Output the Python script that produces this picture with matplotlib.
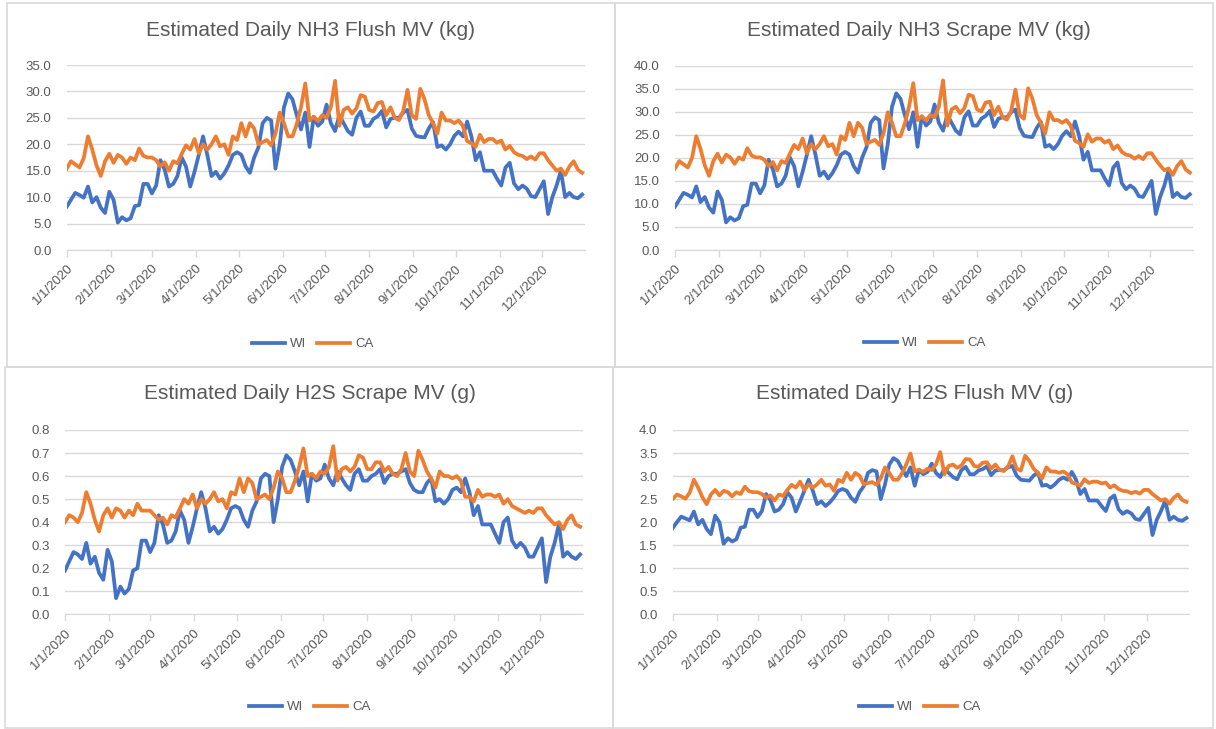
# Estimated daily NH3 / H2S emissions, WI vs CA, 2020 (4 Excel-style panels)
import matplotlib
matplotlib.use("Agg")
import matplotlib.pyplot as plt
from matplotlib.patches import Rectangle
import numpy as np
import pandas as pd

# colours (Excel defaults)
WI_COLOR = "#4472C4"
CA_COLOR = "#ED7D31"
GRID_COLOR = "#D9D9D9"
TEXT_COLOR = "#595959"
LINE_W = 2.7

plt.rcParams["font.family"] = ["Liberation Sans", "DejaVu Sans"]

# sample dates: every 3rd day of 2020
dates = pd.date_range("2020-01-01", periods=122, freq="3D")
month_ticks = pd.date_range("2020-01-01", "2020-12-01", freq="MS")
month_labels = [f"{d.month}/{d.day}/{d.year}" for d in month_ticks]
series_names = ["WI", "CA"]

# NH3 flush (kg)
nh3_flush_wi = [8.2, 9.5, 10.8, 10.4, 9.9, 12.0, 9.0, 10.0, 8.0, 7.0,
                11.0, 9.5, 5.2, 6.2, 5.6, 6.0, 8.3, 8.5, 12.5, 12.5,
                10.7, 12.2, 17.0, 15.2, 12.0, 12.5, 14.0, 17.5, 15.8, 12.0,
                14.8, 18.0, 21.5, 18.0, 14.0, 14.8, 13.5, 14.5, 16.0, 18.0,
                18.5, 18.0, 15.8, 14.6, 17.5, 19.4, 24.0, 25.0, 24.5, 15.4,
                20.0, 27.0, 29.6, 28.5, 25.5, 22.8, 26.0, 19.5, 25.2, 23.5,
                24.3, 27.5, 24.0, 22.5, 25.5, 24.0, 22.5, 21.8, 25.0, 26.2,
                23.5, 23.5, 24.8, 25.3, 26.3, 23.2, 24.8, 25.0, 25.0, 26.0,
                26.5, 23.0, 21.6, 21.4, 21.3, 23.0, 24.2, 19.5, 19.8, 19.0,
                20.0, 21.6, 22.4, 21.5, 24.3, 21.5, 17.0, 18.5, 15.0, 15.0,
                15.0, 13.5, 12.2, 15.6, 16.5, 12.6, 11.5, 12.2, 11.6, 10.2,
                10.0, 11.5, 13.0, 6.8, 10.0, 12.2, 15.0, 10.0, 10.8, 10.0,
                9.8, 10.5]
nh3_flush_ca = [15.4, 16.8, 16.2, 15.6, 17.4, 21.5, 19.0, 16.0, 14.0, 16.8,
                18.2, 16.5, 18.0, 17.5, 16.3, 17.5, 17.0, 19.2, 17.8, 17.5,
                17.5, 17.0, 15.8, 16.6, 15.0, 16.8, 16.4, 18.2, 19.8, 19.0,
                21.0, 18.3, 20.0, 19.0, 20.0, 21.5, 19.6, 20.0, 18.0, 21.5,
                20.8, 24.0, 21.5, 24.0, 23.0, 20.0, 20.4, 20.8, 19.8, 22.0,
                26.0, 24.0, 21.5, 21.5, 23.8, 27.0, 31.5, 24.5, 25.2, 24.4,
                25.5, 25.0, 27.0, 32.0, 23.5, 26.5, 27.0, 25.8, 26.8, 29.3,
                29.0, 26.5, 26.2, 27.8, 28.0, 25.5, 27.0, 25.0, 24.6, 26.3,
                30.3, 25.5, 24.8, 30.5, 28.5, 25.5, 24.0, 22.0, 26.0, 24.5,
                24.5, 24.0, 24.5, 23.5, 20.6, 20.2, 19.5, 21.8, 20.4, 21.0,
                21.0, 20.3, 20.7, 19.0, 19.7, 18.5, 18.0, 17.8, 17.2, 17.7,
                17.1, 18.3, 18.3, 17.0, 16.0, 15.0, 15.4, 14.2, 15.8, 16.8,
                15.2, 14.6]

# NH3 scrape (kg)
nh3_scrape_wi = [9.4, 10.9, 12.4, 12.0, 11.4, 13.8, 10.4, 11.5, 9.2, 8.1,
                 12.7, 10.9, 6.0, 7.1, 6.4, 6.9, 9.5, 9.8, 14.4, 14.4,
                 12.3, 14.0, 19.6, 17.5, 13.8, 14.4, 16.1, 20.1, 18.2, 13.8,
                 17.0, 20.7, 24.7, 20.7, 16.1, 17.0, 15.5, 16.7, 18.4, 20.7,
                 21.3, 20.7, 18.2, 16.8, 20.1, 22.3, 27.6, 28.8, 28.2, 17.7,
                 23.0, 31.1, 34.0, 32.8, 29.3, 26.2, 29.9, 22.4, 29.0, 27.0,
                 27.9, 31.6, 27.6, 25.9, 29.3, 27.6, 25.9, 25.1, 28.8, 30.1,
                 27.0, 27.0, 28.5, 29.1, 30.2, 26.7, 28.5, 28.8, 28.8, 29.9,
                 30.5, 26.5, 24.8, 24.6, 24.5, 26.5, 27.8, 22.4, 22.8, 21.9,
                 23.0, 24.8, 25.8, 24.7, 27.9, 24.7, 19.6, 21.3, 17.3, 17.3,
                 17.3, 15.5, 14.0, 17.9, 19.0, 14.5, 13.2, 14.0, 13.3, 11.7,
                 11.5, 13.2, 15.0, 7.8, 11.5, 14.0, 17.3, 11.5, 12.4, 11.5,
                 11.3, 12.1]
nh3_scrape_ca = [17.7, 19.3, 18.6, 17.9, 20.0, 24.7, 21.9, 18.4, 16.1, 19.3,
                 20.9, 19.0, 20.7, 20.1, 18.7, 20.1, 19.6, 22.1, 20.5, 20.1,
                 20.1, 19.6, 18.2, 19.1, 17.3, 19.3, 18.9, 20.9, 22.8, 21.9,
                 24.2, 21.0, 23.0, 21.9, 23.0, 24.7, 22.5, 23.0, 20.7, 24.7,
                 23.9, 27.6, 24.7, 27.6, 26.5, 23.0, 23.5, 23.9, 22.8, 25.3,
                 29.9, 27.6, 24.7, 24.7, 27.4, 31.1, 36.2, 28.2, 29.0, 28.1,
                 29.3, 28.8, 31.1, 36.8, 27.0, 30.5, 31.1, 29.7, 30.8, 33.7,
                 33.4, 30.5, 30.1, 32.0, 32.2, 29.3, 31.1, 28.8, 28.3, 30.2,
                 34.8, 29.3, 28.5, 35.1, 32.8, 29.3, 27.6, 25.3, 29.9, 28.2,
                 28.2, 27.6, 28.2, 27.0, 23.7, 23.2, 22.4, 25.1, 23.5, 24.2,
                 24.2, 23.3, 23.8, 21.9, 22.7, 21.3, 20.7, 20.5, 19.8, 20.4,
                 19.7, 21.0, 21.0, 19.6, 18.4, 17.3, 17.7, 16.3, 18.2, 19.3,
                 17.5, 16.8]

# H2S scrape (g)
h2s_scrape_wi = [0.19, 0.23, 0.27, 0.26, 0.24, 0.31, 0.22, 0.25, 0.18, 0.15,
                 0.28, 0.23, 0.07, 0.12, 0.09, 0.11, 0.19, 0.20, 0.32, 0.32,
                 0.27, 0.31, 0.43, 0.39, 0.31, 0.32, 0.36, 0.45, 0.41, 0.31,
                 0.38, 0.46, 0.53, 0.46, 0.36, 0.38, 0.35, 0.37, 0.41, 0.46,
                 0.47, 0.46, 0.41, 0.38, 0.45, 0.49, 0.59, 0.61, 0.60, 0.40,
                 0.50, 0.64, 0.69, 0.67, 0.62, 0.56, 0.62, 0.49, 0.61, 0.58,
                 0.59, 0.65, 0.59, 0.56, 0.62, 0.59, 0.56, 0.54, 0.61, 0.63,
                 0.58, 0.58, 0.60, 0.61, 0.63, 0.57, 0.60, 0.61, 0.61, 0.62,
                 0.63, 0.57, 0.54, 0.53, 0.53, 0.57, 0.59, 0.49, 0.50, 0.48,
                 0.50, 0.54, 0.55, 0.53, 0.59, 0.53, 0.43, 0.47, 0.39, 0.39,
                 0.39, 0.35, 0.31, 0.40, 0.42, 0.32, 0.29, 0.31, 0.29, 0.25,
                 0.25, 0.29, 0.33, 0.14, 0.25, 0.31, 0.39, 0.25, 0.27, 0.25,
                 0.24, 0.26]
h2s_scrape_ca = [0.40, 0.43, 0.42, 0.40, 0.44, 0.53, 0.48, 0.41, 0.36, 0.43,
                 0.46, 0.42, 0.46, 0.45, 0.42, 0.45, 0.43, 0.48, 0.45, 0.45,
                 0.45, 0.43, 0.41, 0.42, 0.39, 0.43, 0.42, 0.46, 0.50, 0.48,
                 0.52, 0.46, 0.50, 0.48, 0.50, 0.53, 0.49, 0.50, 0.46, 0.53,
                 0.52, 0.59, 0.53, 0.59, 0.57, 0.50, 0.51, 0.52, 0.50, 0.55,
                 0.62, 0.59, 0.53, 0.53, 0.58, 0.64, 0.72, 0.60, 0.61, 0.59,
                 0.62, 0.61, 0.64, 0.73, 0.58, 0.63, 0.64, 0.62, 0.64, 0.69,
                 0.68, 0.63, 0.63, 0.66, 0.66, 0.62, 0.64, 0.61, 0.60, 0.63,
                 0.70, 0.62, 0.60, 0.71, 0.67, 0.62, 0.59, 0.55, 0.62, 0.60,
                 0.60, 0.59, 0.60, 0.58, 0.51, 0.51, 0.49, 0.54, 0.51, 0.52,
                 0.52, 0.51, 0.52, 0.48, 0.50, 0.47, 0.46, 0.45, 0.44, 0.45,
                 0.44, 0.46, 0.46, 0.43, 0.41, 0.39, 0.40, 0.37, 0.41, 0.43,
                 0.39, 0.38]

# H2S flush (g)
h2s_flush_wi = [1.87, 2.00, 2.12, 2.08, 2.04, 2.23, 1.95, 2.05, 1.85, 1.74,
                2.14, 2.00, 1.53, 1.65, 1.58, 1.63, 1.88, 1.90, 2.27, 2.27,
                2.11, 2.24, 2.61, 2.48, 2.23, 2.27, 2.39, 2.65, 2.53, 2.23,
                2.45, 2.68, 2.92, 2.68, 2.39, 2.45, 2.35, 2.43, 2.54, 2.68,
                2.72, 2.68, 2.53, 2.44, 2.65, 2.78, 3.07, 3.13, 3.10, 2.50,
                2.82, 3.25, 3.39, 3.33, 3.16, 3.00, 3.19, 2.79, 3.14, 3.04,
                3.09, 3.27, 3.07, 2.98, 3.16, 3.07, 2.98, 2.93, 3.13, 3.20,
                3.04, 3.04, 3.12, 3.15, 3.21, 3.02, 3.12, 3.13, 3.13, 3.19,
                3.22, 3.01, 2.92, 2.91, 2.90, 3.01, 3.08, 2.79, 2.81, 2.75,
                2.82, 2.92, 2.97, 2.92, 3.09, 2.92, 2.61, 2.72, 2.47, 2.47,
                2.47, 2.35, 2.24, 2.51, 2.58, 2.28, 2.18, 2.24, 2.19, 2.07,
                2.05, 2.18, 2.31, 1.72, 2.05, 2.24, 2.47, 2.05, 2.12, 2.05,
                2.03, 2.09]
h2s_flush_ca = [2.50, 2.60, 2.56, 2.51, 2.64, 2.92, 2.75, 2.54, 2.39, 2.60,
                2.70, 2.58, 2.68, 2.65, 2.56, 2.65, 2.61, 2.77, 2.67, 2.65,
                2.65, 2.61, 2.53, 2.58, 2.47, 2.60, 2.57, 2.70, 2.81, 2.75,
                2.88, 2.70, 2.82, 2.75, 2.82, 2.92, 2.79, 2.82, 2.68, 2.92,
                2.87, 3.07, 2.92, 3.07, 3.01, 2.82, 2.85, 2.87, 2.81, 2.95,
                3.19, 3.07, 2.92, 2.92, 3.06, 3.25, 3.49, 3.10, 3.14, 3.09,
                3.16, 3.13, 3.25, 3.52, 3.04, 3.22, 3.25, 3.18, 3.23, 3.37,
                3.36, 3.22, 3.20, 3.29, 3.30, 3.16, 3.25, 3.13, 3.11, 3.21,
                3.43, 3.16, 3.12, 3.44, 3.33, 3.16, 3.07, 2.95, 3.19, 3.10,
                3.10, 3.07, 3.10, 3.04, 2.86, 2.83, 2.79, 2.93, 2.85, 2.88,
                2.88, 2.84, 2.86, 2.75, 2.80, 2.72, 2.68, 2.67, 2.63, 2.66,
                2.62, 2.70, 2.70, 2.61, 2.54, 2.47, 2.50, 2.40, 2.53, 2.60,
                2.48, 2.44]

titles = ["Estimated Daily NH3 Flush MV (kg)", "Estimated Daily NH3 Scrape MV (kg)",
          "Estimated Daily H2S Scrape MV (g)", "Estimated Daily H2S Flush MV (g)"]

W, H = 1216, 729
fig = plt.figure(figsize=(W / 100, H / 100), dpi=100)
fig.patch.set_facecolor("white")

# chart-area borders (pixels: x0, y0, x1, y1)
for x0, y0, x1, y1 in [(7, 3, 615, 367), (615, 3, 1213, 367),
                       (5, 367, 613, 728), (613, 367, 1213, 728)]:
    fig.add_artist(Rectangle((x0 / W, 1 - y1 / H), (x1 - x0) / W, (y1 - y0) / H,
                             transform=fig.transFigure, fill=False,
                             ec=GRID_COLOR, lw=1.2))

# layout per panel: plot box in pixels, title centre, legend centre, y range
panels = [
    dict(box=(66.7, 65, 585, 250), title_xy=(311, 30), leg=(313, 344),
         wi=nh3_flush_wi, ca=nh3_flush_ca, ymax=35, step=5),
    dict(box=(675, 65.7, 1192.7, 250), title_xy=(919, 30), leg=(925, 343),
         wi=nh3_scrape_wi, ca=nh3_scrape_ca, ymax=40, step=5),
    dict(box=(65, 430, 583, 614.3), title_xy=(310, 394), leg=(310, 707),
         wi=h2s_scrape_wi, ca=h2s_scrape_ca, ymax=0.8, step=0.1),
    dict(box=(672.7, 430, 1189.3, 614.3), title_xy=(915, 394), leg=(920, 707),
         wi=h2s_flush_wi, ca=h2s_flush_ca, ymax=4.0, step=0.5),
]

for title, p in zip(titles, panels):
    x0, y0, x1, y1 = p["box"]
    ax = fig.add_axes([x0 / W, 1 - y1 / H, (x1 - x0) / W, (y1 - y0) / H])
    ax.plot(dates, p["wi"], color=WI_COLOR, lw=LINE_W, label=series_names[0],
            solid_joinstyle="round")
    ax.plot(dates, p["ca"], color=CA_COLOR, lw=LINE_W, label=series_names[1],
            solid_joinstyle="round")

    ax.set_xlim(pd.Timestamp("2020-01-01"), pd.Timestamp("2020-12-31"))
    ax.set_ylim(0, p["ymax"])
    ax.set_yticks(np.arange(0, p["ymax"] + p["step"] / 2, p["step"]))
    ax.yaxis.set_major_formatter(plt.FormatStrFormatter("%.1f"))
    ax.set_xticks(month_ticks)
    ax.set_xticklabels(month_labels, rotation=45, ha="right",
                       rotation_mode="anchor")

    ax.grid(axis="y", color=GRID_COLOR, lw=1)
    ax.set_axisbelow(True)
    for side in ["left", "right", "top"]:
        ax.spines[side].set_visible(False)
    ax.spines["bottom"].set_color(GRID_COLOR)
    ax.tick_params(axis="x", colors=GRID_COLOR, labelcolor=TEXT_COLOR,
                   length=5, width=1, labelsize=9.5, pad=4)
    ax.tick_params(axis="y", length=0, labelcolor=TEXT_COLOR,
                   labelsize=9.5, pad=11)

    lx, ly = p["leg"]
    leg = ax.legend(loc="center", ncol=2, frameon=False, fontsize=9.5,
                    handlelength=2.5, handletextpad=0.4, columnspacing=0.8,
                    bbox_to_anchor=((lx - x0) / (x1 - x0), (y1 - ly) / (y1 - y0)))
    for t in leg.get_texts():
        t.set_color(TEXT_COLOR)

    tx, ty = p["title_xy"]
    fig.text(tx / W, 1 - ty / H, title, ha="center", va="center",
             fontsize=15, color=TEXT_COLOR)

fig.savefig("out.png", dpi=100)
